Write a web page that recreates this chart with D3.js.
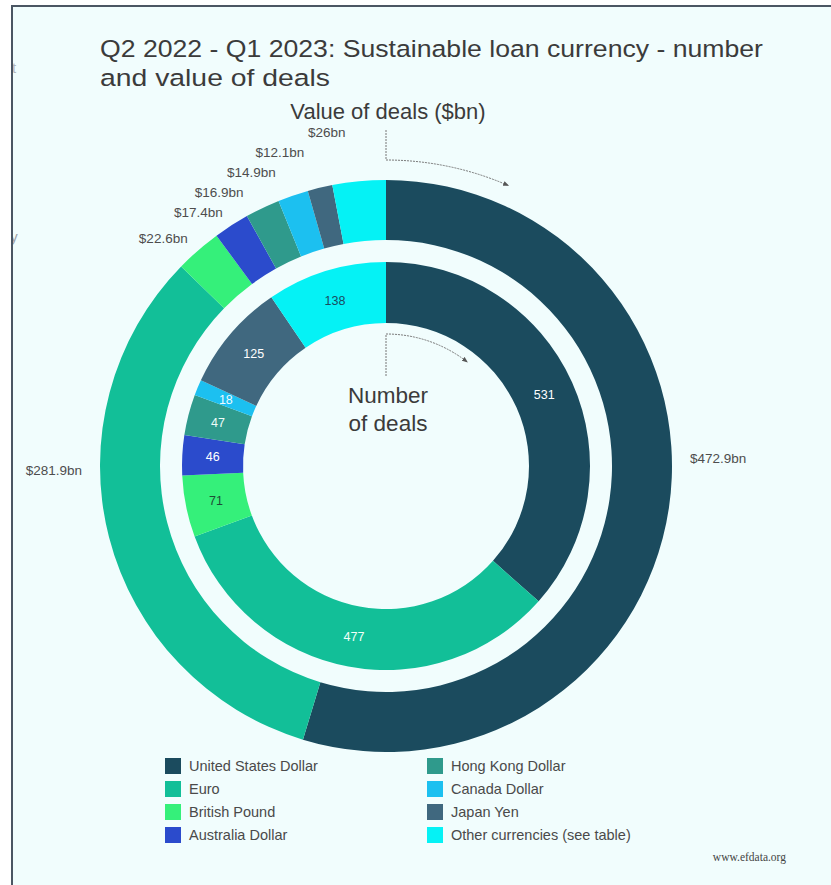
<!DOCTYPE html>
<html>
<head>
<meta charset="utf-8">
<script src="https://cdn.jsdelivr.net/npm/d3@7/dist/d3.min.js"></script>
<style>
  html, body { margin: 0; padding: 0; background: #fff; }
  svg { display: block; font-family: 'Liberation Sans', Arial, sans-serif; }
</style>
</head>
<body>
<svg id="chart" width="831" height="885"></svg>
<script>
const currencies = ['United States Dollar', 'Euro', 'British Pound', 'Australia Dollar',
  'Hong Kong Dollar', 'Canada Dollar', 'Japan Yen', 'Other currencies (see table)']
const dealValues = [472.9, 281.9, 22.6, 17.4, 16.9, 14.9, 12.1, 26]
const dealCounts = [531, 477, 71, 46, 47, 18, 125, 138]
const colours = ['#1b4b5e', '#12bf98', '#35f07a', '#2b4bcc', '#2f9a8c', '#1cc0f0', '#40687f', '#05f2f5']
const countLabelColours = ['#fff', '#f2fff9', '#1e4d37', '#fff', '#eefcf8', '#eefaff', '#fff', '#1b4b5e']

const svg = d3.select('#chart')
const cx = 386
const cy = 466

// page frame
svg.append('rect').attr('x', 12).attr('y', 6).attr('width', 831).attr('height', 885).style('fill', '#f1fdfd')

// bits of the page behind, cut off by the frame
svg.append('text').attr('x', 12).attr('y', 73).style('font-size', '15px').style('fill', '#b3b8bd').text('t')
svg.append('text').attr('x', 7).attr('y', 242).style('font-size', '15px').style('fill', '#9ea3a8').text('ly')
svg.append('rect').attr('x', 0).attr('y', 0).attr('width', 11).attr('height', 885).style('fill', '#fff')

svg.append('line').attr('x1', 12).attr('x2', 12).attr('y1', 5).attr('y2', 885)
  .style('stroke', '#4b5663').style('stroke-width', 2)
svg.append('line').attr('x1', 11).attr('x2', 831).attr('y1', 6).attr('y2', 6)
  .style('stroke', '#4b5663').style('stroke-width', 2)

svg.selectAll('.title')
  .data([['Q2 2022 - Q1 2023: Sustainable loan currency - number', 663], ['and value of deals', 230]])
  .enter()
  .append('text')
  .classed('title', true)
  .attr('x', 100)
  .attr('y', (d, i) => 57 + i * 29)
  .attr('textLength', d => d[1])
  .attr('lengthAdjust', 'spacingAndGlyphs')
  .style('font-size', '24.5px').style('fill', '#3b3b3b')
  .text(d => d[0])

const pie = d3.pie().sort(null).value(d => d)
const valueArcs = pie(dealValues)
const countArcs = pie(dealCounts)

const outerArc = d3.arc().innerRadius(226).outerRadius(286)
const innerArc = d3.arc().innerRadius(143).outerRadius(204)

const g = svg.append('g').attr('transform', `translate(${cx},${cy})`)

g.selectAll('.value-slice')
  .data(valueArcs)
  .enter()
  .append('path')
  .classed('value-slice', true)
  .attr('d', outerArc)
  .style('fill', (d, i) => colours[i])

g.selectAll('.count-slice')
  .data(countArcs)
  .enter()
  .append('path')
  .classed('count-slice', true)
  .attr('d', innerArc)
  .style('fill', (d, i) => colours[i])

g.selectAll('.count-label')
  .data(countArcs)
  .enter()
  .append('text')
  .classed('count-label', true)
  .attr('transform', d => `translate(${innerArc.centroid(d)})`)
  .attr('text-anchor', 'middle')
  .attr('dy', '0.35em')
  .style('font-size', '12.5px')
  .style('fill', (d, i) => countLabelColours[i])
  .text(d => d.data)

// Value labels: big slices go level with the centre, small ones are pushed up so they don't overlap
const labelR = 302
const labels = valueArcs.map((d, i) => {
  const text = `$${d.data}bn`
  for (const a of [Math.PI / 2, Math.PI * 1.5]) {
    if (d.startAngle <= a && d.endAngle >= a) {
      const side = a < Math.PI ? 1 : -1
      return { text, x: side * 304, y: side > 0 ? -8 : 4, anchor: side > 0 ? 'start' : 'end', fixed: true }
    }
  }
  const a = (d.startAngle + d.endAngle) / 2
  return { text, x: labelR * Math.sin(a), y: -labelR * Math.cos(a), anchor: 'end', fixed: false }
})

const loose = labels.filter(l => !l.fixed).sort((p, q) => q.y - p.y)
for (let i = 1; i < loose.length; i++) {
  if (loose[i - 1].y - loose[i].y < 20) {
    // pushed labels also slide a little outward
    loose[i].x -= 12
    loose[i].y = loose[i - 1].y - 20
  }
}

g.selectAll('.value-label')
  .data(labels)
  .enter()
  .append('text')
  .classed('value-label', true)
  .attr('x', d => d.x)
  .attr('y', d => d.y)
  .attr('dy', '0.35em')
  .attr('text-anchor', d => d.anchor)
  .style('font-size', '13.5px')
  .style('fill', '#4d4d4d')
  .text(d => d.text)

// headings with their little pointer arcs
const defs = svg.append('defs')
defs.append('marker')
  .attr('id', 'tip')
  .attr('viewBox', '0 0 10 10')
  .attr('refX', 8).attr('refY', 5)
  .attr('markerWidth', 6).attr('markerHeight', 6)
  .attr('orient', 'auto')
  .append('path')
  .attr('d', 'M0,1L10,5L0,9z')
  .style('fill', '#555')

const pointer = (top, r, end) => {
  const p = d3.path()
  p.moveTo(0, top)
  p.lineTo(0, -r)
  p.arc(0, 0, r, -Math.PI / 2, -Math.PI / 2 + end)
  g.append('path')
    .attr('d', p.toString())
    .attr('marker-end', 'url(#tip)')
    .style('fill', 'none')
    .style('stroke', '#777')
    .style('stroke-width', 1)
    .style('stroke-dasharray', '2,1')
}
pointer(-336, 306, 0.41)
pointer(-90, 132, 0.66)

g.append('text')
  .attr('x', 2).attr('y', -347)
  .attr('text-anchor', 'middle')
  .style('font-size', '22px').style('fill', '#3b3b3b')
  .text('Value of deals ($bn)')

g.selectAll('.centre-title')
  .data(['Number', 'of deals'])
  .enter()
  .append('text')
  .attr('x', 2)
  .attr('y', (d, i) => -63 + i * 28)
  .attr('text-anchor', 'middle')
  .style('font-size', '22.5px').style('fill', '#3b3b3b')
  .text(d => d)

// legend
const legend = svg.selectAll('.legend')
  .data(currencies)
  .enter()
  .append('g')
  .classed('legend', true)
  .attr('transform', (d, i) => `translate(${165 + Math.floor(i / 4) * 262},${758 + (i % 4) * 23})`)

legend.append('rect')
  .attr('width', 16).attr('height', 16)
  .style('fill', (d, i) => colours[i])

legend.append('text')
  .attr('x', 24).attr('y', 13)
  .style('font-size', '14.5px').style('fill', '#4a4a4a')
  .text(d => d)

svg.append('text')
  .attr('x', 786).attr('y', 861)
  .attr('text-anchor', 'end')
  .style('font-family', "'Liberation Serif', 'DejaVu Serif', serif")
  .style('font-size', '11.5px').style('fill', '#444')
  .text('www.efdata.org')
</script>
</body>
</html>
